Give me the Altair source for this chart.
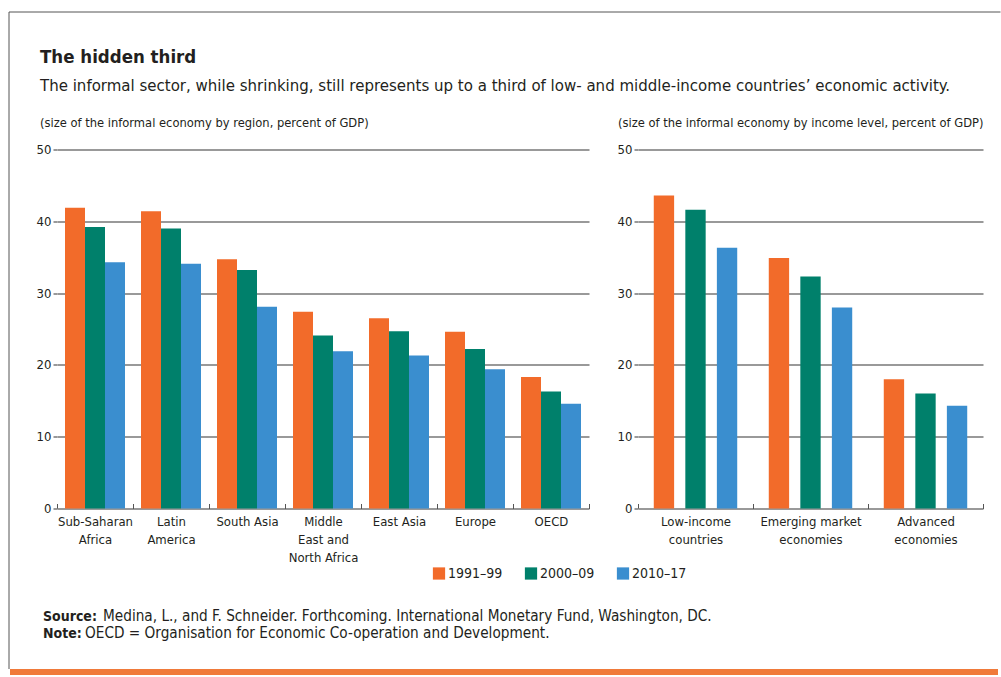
import altair as alt
import pandas as pd

FONT = "DejaVu Sans Condensed, DejaVu Sans, sans-serif"
TEXT = "#231f20"

periods = ["1991–99", "2000–09", "2010–17"]
colors = ["#F26B2A", "#00806B", "#3A8ECF"]

regions = ["Sub-Saharan|Africa", "Latin|America", "South Asia", "Middle|East and|North Africa",
           "East Asia", "Europe", "OECD"]
region_1991 = [41.9, 41.4, 34.7, 27.4, 26.5, 24.6, 18.3]
region_2000 = [39.2, 39.0, 33.2, 24.1, 24.7, 22.2, 16.3]
region_2010 = [34.3, 34.1, 28.1, 21.9, 21.3, 19.4, 14.6]

income = ["Low-income|countries", "Emerging market|economies", "Advanced|economies"]
income_1991 = [43.6, 34.9, 18.0]
income_2000 = [41.6, 32.3, 16.0]
income_2010 = [36.3, 28.0, 14.3]

y_ticks = [0, 10, 20, 30, 40, 50]


def long_df(cats, series):
    rows = []
    for p, vals in zip(periods, series):
        for c, v in zip(cats, vals):
            rows.append({"cat": c, "period": p, "value": v})
    return pd.DataFrame(rows)


df_region = long_df(regions, [region_1991, region_2000, region_2010])
df_income = long_df(income, [income_1991, income_2000, income_2010])


def panel(df, cats, width, title, title_dx, pad_inner, pad_outer, show_legend):
    legend = None
    if show_legend:
        legend = alt.Legend(title=None, orient="none", direction="horizontal",
                            legendX=375, legendY=417, symbolType="square",
                            symbolSize=150, symbolStrokeWidth=0, labelFontSize=14,
                            labelFont=FONT, labelColor=TEXT, columnPadding=21,
                            labelOffset=2)
    return alt.Chart(df).mark_bar().encode(
        x=alt.X("cat:N", sort=cats,
                scale=alt.Scale(paddingInner=0, paddingOuter=0),
                axis=alt.Axis(title=None, labelExpr="split(datum.label, '|')",
                              labelAngle=0, tickBand="extent", ticks=True,
                              tickSize=5, tickColor="#555", tickWidth=1,
                              domain=False, offset=-5,
                              labelFontSize=13, labelFont=FONT, labelColor=TEXT,
                              labelPadding=7, labelLineHeight=18)),
        xOffset=alt.XOffset("period:N", sort=periods,
                            scale=alt.Scale(paddingInner=pad_inner, paddingOuter=pad_outer)),
        y=alt.Y("value:Q", scale=alt.Scale(domain=[0, 50]),
                axis=alt.Axis(values=y_ticks, title=None, grid=True, gridColor="#999",
                              gridWidth=2, domain=False, tickSize=4, tickColor="#999",
                              tickWidth=2, labelFontSize=13, labelFont=FONT,
                              labelColor=TEXT, labelPadding=2)),
        color=alt.Color("period:N", sort=periods,
                        scale=alt.Scale(domain=periods, range=colors), legend=legend),
    ).properties(
        width=width, height=359,
        title=alt.TitleParams(title, anchor="start", frame="group", dx=title_dx,
                              fontSize=12.8, font=FONT, fontWeight="normal",
                              color=TEXT, offset=14),
    )


left = panel(df_region, regions, 532,
             "(size of the informal economy by region, percent of GDP)", -17, 0, 0.4, True)
right = panel(df_income, income, 345,
              "(size of the informal economy by income level, percent of GDP)", -20,
              0.355, 0.5, False)

footer_data = alt.Data(values=[{"k": 1}])


def ftext(x, y, s, bold=False):
    return alt.Chart(footer_data).mark_text(
        align="left", baseline="alphabetic", fontSize=14 if bold else 15.2, font=FONT,
        fontWeight="bold" if bold else "normal", color=TEXT).encode(
        x=alt.value(x), y=alt.value(y), text=alt.value(s))


def frule(x, x2, y, y2, color, w):
    return alt.Chart(footer_data).mark_rule(color=color, strokeWidth=w).encode(
        x=alt.value(x), x2=alt.value(x2), y=alt.value(y), y2=alt.value(y2))


FRAME_TOP = -563
footer = alt.layer(
    ftext(-14, 46, "Source:", True),
    ftext(46, 46, "Medina, L., and F. Schneider. Forthcoming. International Monetary Fund, Washington, DC."),
    ftext(-14, 63, "Note:", True),
    ftext(28, 63, "OECD = Organisation for Economic Co-operation and Development."),
    frule(-48, -48, FRAME_TOP, 94, "#555", 1),
    frule(-48, 943.5, FRAME_TOP, FRAME_TOP, "#555", 1),
    frule(-47, 941, 97, 97, "#F07A3A", 6),
).properties(width=880, height=60)

charts = alt.hconcat(left, right, spacing=27).resolve_scale(
    x="independent", xOffset="independent")
chart = alt.vconcat(charts, footer, spacing=9.5 + FRAME_TOP).properties(
    title=alt.TitleParams("The hidden third",
                          subtitle="The informal sector, while shrinking, still represents up to a third of low- and middle-income countries’ economic activity.",
                          anchor="start", frame="group", fontSize=18.5, font=FONT,
                          fontWeight="bold", color=TEXT, subtitleFont=FONT,
                          subtitleFontSize=16.7, subtitleColor=TEXT, subtitlePadding=12,
                          offset=-83.5, dx=-17),
    padding={"left": 7, "top": 11.5, "right": 0, "bottom": 2},
).configure(background="white").configure_view(stroke="transparent", strokeWidth=0)

chart.save("out.html", embed_options={"renderer": "svg", "actions": False})
